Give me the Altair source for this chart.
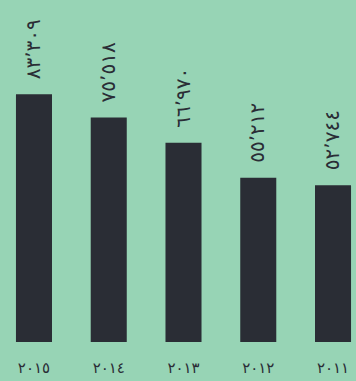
import altair as alt
import pandas as pd

# Yearly totals, newest year on the left
years = ["٢٠١٥", "٢٠١٤", "٢٠١٣", "٢٠١٢", "٢٠١١"]
values = [83309, 75518, 66970, 55212, 52744]

ARABIC_DIGITS = str.maketrans("0123456789,", "٠١٢٣٤٥٦٧٨٩٬")


def to_arabic(n):
    return f"{n:,}".translate(ARABIC_DIGITS)


df = pd.DataFrame({
    "year": years,
    "value": values,
    "label": [to_arabic(v) for v in values],
})

BG = "#97d4b5"
INK = "#2a2d35"

x = alt.X(
    "year:N",
    sort=years,
    scale=alt.Scale(range=[-3.4, 370.4], paddingInner=0.518, paddingOuter=0.259),
    axis=alt.Axis(
        title=None,
        domain=False,
        ticks=False,
        grid=False,
        labelAngle=0,
        labelFont="DejaVu Sans",
        labelFontSize=15,
        labelColor=INK,
        labelPadding=18,
    ),
)
y = alt.Y("value:Q", scale=alt.Scale(domain=[0, 115000], nice=False), axis=None)

bars = alt.Chart(df).mark_bar(color=INK).encode(x=x, y=y)

text = alt.Chart(df).mark_text(
    angle=270,
    align="left",
    baseline="middle",
    dx=15,
    font="DejaVu Sans",
    fontSize=20,
    color=INK,
).encode(x=x, y=y, text="label:N")

chart = (
    alt.layer(bars, text)
    .properties(
        width=356,
        height=342,
        background=BG,
        padding={"left": 0, "top": 0, "right": 0, "bottom": 39},
        autosize=alt.AutoSizeParams(type="none"),
    )
    .configure_view(stroke=None)
)

chart.save("out.html", embed_options={"renderer": "svg", "actions": False})
